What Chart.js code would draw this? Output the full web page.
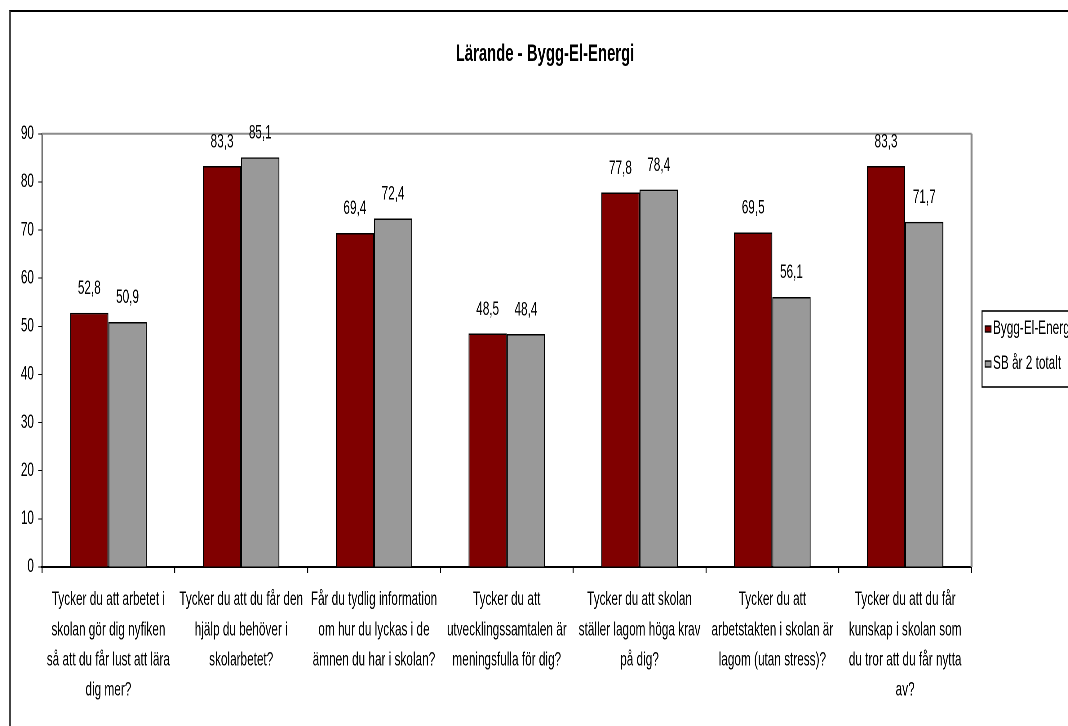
<!DOCTYPE html>
<html>
<head>
<meta charset="utf-8">
<script src="https://cdn.jsdelivr.net/npm/chart.js@4/dist/chart.umd.min.js"></script>
<style>
html, body { margin:0; padding:0; background:#fff; overflow:hidden; width:1068px; height:726px; }
#frame { position:absolute; left:9px; top:10px; width:1200px; height:800px; border-top:2px solid #000; border-left:2px solid #444; }
#c { position:absolute; left:0; top:0; }
</style>
</head>
<body>
<div id="frame"></div>
<canvas id="c" width="1758" height="726" style="width:1090px;height:726px"></canvas>
<script>
// the original is an old office chart squeezed sideways, so draw wide and compress with css
var SX = 0.62;
var FONT = '"Liberation Sans", Arial, sans-serif';

var categories = [
	["Tycker du att arbetet i", "skolan gör dig nyfiken", "så att du får lust att lära", "dig mer?"],
	["Tycker du att du får den", "hjälp du behöver i", "skolarbetet?"],
	["Får du tydlig information", "om hur du lyckas i de", "ämnen du har i skolan?"],
	["Tycker du att", "utvecklingssamtalen är", "meningsfulla för dig?"],
	["Tycker du att skolan", "ställer lagom höga krav", "på dig?"],
	["Tycker du att", "arbetstakten i skolan är", "lagom (utan stress)?"],
	["Tycker du att du får", "kunskap i skolan som", "du tror att du får nytta", "av?"]
];
var byggEl = [52.8, 83.3, 69.4, 48.5, 77.8, 69.5, 83.3];
var sbTotal = [50.9, 85.1, 72.4, 48.4, 78.4, 56.1, 71.7];
var seriesNames = ["Bygg-El-Energi", "SB år 2 totalt"];

function fmt(v){
	return v.toFixed(1).replace('.', ',');
}

var valueLabels = {
	id: 'valueLabels',
	afterDatasetsDraw: function(chart){
		var ctx = chart.ctx;
		ctx.save();
		ctx.font = '19px ' + FONT;
		ctx.fillStyle = '#000';
		ctx.textAlign = 'center';
		ctx.textBaseline = 'middle';
		chart.data.datasets.forEach(function(ds, i){
			var meta = chart.getDatasetMeta(i);
			meta.data.forEach(function(bar, j){
				ctx.fillText(fmt(ds.data[j]), bar.x, bar.y - 24);
			});
		});
		ctx.restore();
	}
};

var plotFrame = {
	id: 'plotFrame',
	beforeDatasetsDraw: function(chart){
		var a = chart.chartArea, ctx = chart.ctx;
		ctx.save();
		ctx.strokeStyle = '#8c8c8c';
		ctx.lineWidth = 2;
		ctx.beginPath();
		ctx.moveTo(a.left, a.top);
		ctx.lineTo(a.right, a.top);
		ctx.stroke();
		ctx.lineWidth = 3.2;
		ctx.beginPath();
		ctx.moveTo(a.right, a.top);
		ctx.lineTo(a.right, a.bottom);
		ctx.stroke();
		ctx.restore();
	},
	afterDraw: function(chart){
		// legend box, cut off by the page edge like the original
		var ctx = chart.ctx;
		var left = 982 / SX, top = 311, right = 1750, bottom = 387;
		ctx.save();
		ctx.strokeStyle = '#000';
		ctx.lineWidth = 1.6;
		ctx.strokeRect(left, top, right - left, bottom - top);
		ctx.font = '19px ' + FONT;
		ctx.textBaseline = 'middle';
		ctx.textAlign = 'left';
		var rows = [329, 364];
		chart.data.datasets.forEach(function(ds, i){
			var y = rows[i];
			ctx.fillStyle = ds.backgroundColor;
			ctx.fillRect(985 / SX, y - 3, 6 / SX, 6);
			ctx.lineWidth = 1.4;
			ctx.strokeRect(985 / SX, y - 3, 6 / SX, 6);
			ctx.fillStyle = '#000';
			ctx.fillText(ds.label, 993 / SX, y);
		});
		ctx.restore();
	}
};

var ctx = document.getElementById('c').getContext('2d');
var chart = new Chart(ctx, {
	type: 'bar',
	data: {
		labels: categories,
		datasets: [{
			label: seriesNames[0],
			data: byggEl,
			backgroundColor: '#800000',
			borderColor: '#000',
			borderWidth: {top: 1.5, left: 1.6, right: 1.6, bottom: 0},
			borderSkipped: false
		}, {
			label: seriesNames[1],
			data: sbTotal,
			backgroundColor: '#999999',
			borderColor: '#000',
			borderWidth: {top: 1.5, left: 1.6, right: 1.6, bottom: 0},
			borderSkipped: false
		}]
	},
	options: {
		responsive: false,
		animation: false,
		devicePixelRatio: 2,
		categoryPercentage: 0.576,
		barPercentage: 1,
		layout: {padding: 0},
		plugins: {
			legend: {display: false},
			tooltip: {enabled: false},
			title: {
				display: true,
				text: 'Lärande - Bygg-El-Energi',
				color: '#000',
				font: {family: FONT, size: 24, weight: 'bold', lineHeight: 1.2},
				padding: {top: 40, bottom: 65}
			}
		},
		scales: {
			x: {
				grid: {drawOnChartArea: false, color: '#000', lineWidth: 1.6, tickLength: 6, offset: true},
				border: {color: '#000', width: 2},
				ticks: {
					color: '#000',
					font: {family: FONT, size: 19, lineHeight: 1.58},
					padding: 12,
					autoSkip: false,
					maxRotation: 0,
					minRotation: 0
				},
				afterFit: function(s){ s.height = 159; }
			},
			y: {
				min: 0,
				max: 90,
				grid: {drawOnChartArea: false, color: '#000', lineWidth: 1, tickLength: 6},
				border: {color: '#000', width: 1.6},
				ticks: {
					stepSize: 10,
					color: '#000',
					font: {family: FONT, size: 19},
					padding: 7
				},
				afterFit: function(s){ s.width = 42 / SX; }
			},
			// empty right axis only reserves the room where the legend sits
			side: {
				type: 'linear',
				position: 'right',
				grid: {display: false},
				border: {display: false},
				ticks: {display: false},
				afterFit: function(s){ s.width = 1758 - 971.5 / SX; }
			}
		}
	},
	plugins: [plotFrame, valueLabels]
});
</script>
</body>
</html>
